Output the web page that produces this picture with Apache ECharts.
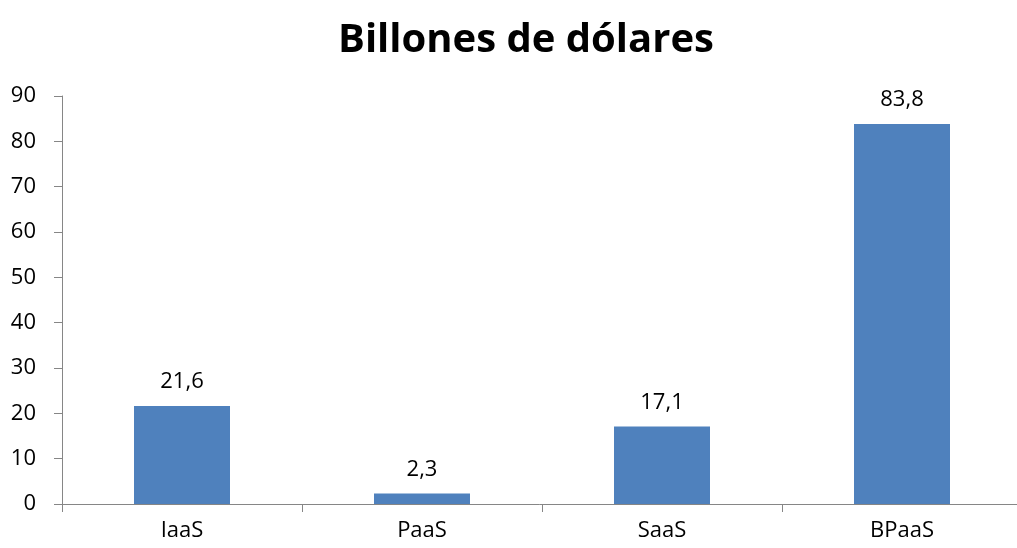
<!DOCTYPE html>
<html><head><meta charset="utf-8">
<script src="https://cdn.jsdelivr.net/npm/echarts@6/dist/echarts.min.js"></script>
<style>html,body{margin:0;padding:0;background:#fff}#c{width:1017px;height:548px}</style>
</head><body><div id="c"></div>
<script>
const categories = ["IaaS", "PaaS", "SaaS", "BPaaS"];
const values = [21.6, 2.3, 17.1, 83.8];
const title = "Billones de dólares";
const font = "'Open Sans', 'Noto Sans', sans-serif";
const chart = echarts.init(document.getElementById('c'));
chart.setOption({
  animation: false,
  title: { text: title, left: 333, top: 16,
    textStyle: { fontFamily: font, fontWeight: 'bold', fontSize: 40, color: '#000' } },
  grid: { left: 62, top: 96, width: 960, bottom: 44, containLabel: false, outerBoundsMode: 'none' },
  xAxis: { type: 'category', data: categories,
    axisLine: { lineStyle: { color: '#868686', width: 1 } },
    axisTick: { show: true, length: 8, lineStyle: { color: '#868686' } },
    axisLabel: { fontFamily: font, fontSize: 22, color: '#000', margin: 16 } },
  yAxis: { type: 'value', min: 0, max: 90, interval: 10,
    axisLine: { show: true, lineStyle: { color: '#868686' } },
    axisTick: { show: true, length: 8, lineStyle: { color: '#868686' } },
    splitLine: { show: false },
    axisLabel: { fontFamily: font, fontSize: 22, color: '#000', margin: 26 } },
  series: [{ type: 'bar', data: values, barWidth: '40%',
    itemStyle: { color: '#4F81BD' },
    label: { show: true, position: 'top', distance: 13, fontFamily: font, fontSize: 22, color: '#000',
      formatter: p => String(p.value).replace('.', ',') } }]
});
</script></body></html>
